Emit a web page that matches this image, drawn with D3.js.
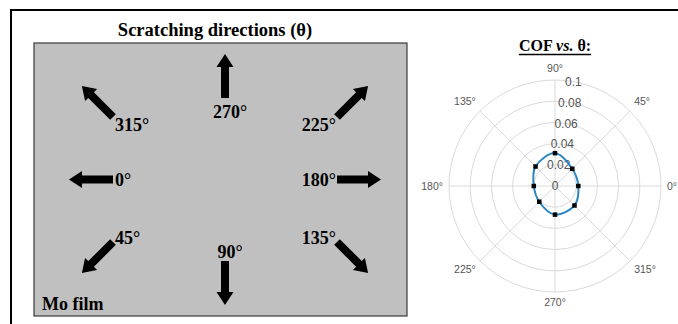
<!DOCTYPE html>
<html>
<head>
<meta charset="utf-8">
<script src="https://cdn.jsdelivr.net/npm/d3@7"></script>
<style>
  html, body { margin: 0; padding: 0; background: #fff; }
  svg { display: block; }
</style>
</head>
<body>
<svg id="fig" width="678" height="324"></svg>
<script>
// Scratching directions drawn on the film (degrees)
const scratchAngles = [315, 270, 225, 0, 180, 45, 90, 135];

// Polar plot: friction coefficient measured along each direction
const thetaDeg = [0, 45, 90, 135, 180, 225, 270, 315];
const cofValues = [0.022, 0.023, 0.031, 0.026, 0.020, 0.021, 0.027, 0.026];
const rTicks = [0, 0.02, 0.04, 0.06, 0.08, 0.1];
const thetaTicks = [0, 45, 90, 135, 180, 225, 270, 315];

const svg = d3.select("#fig");
const serif = "'Liberation Serif', 'Times New Roman', serif";
const sans = "'Liberation Sans', Arial, Helvetica, sans-serif";

// outer frame
svg.append("rect")
  .attr("x", 11).attr("y", 10).attr("width", 720).attr("height", 400)
  .attr("fill", "none").attr("stroke", "#000").attr("stroke-width", 2);

// ---------- left panel: film with scratching arrows ----------
const panel = { x: 34, y: 43, w: 373, h: 273 };

svg.append("text")
  .attr("x", 215).attr("y", 36)
  .attr("text-anchor", "middle")
  .attr("font-family", serif).attr("font-weight", "bold").attr("font-size", 18.5)
  .text("Scratching directions (\u03b8)");

svg.append("rect")
  .attr("x", panel.x).attr("y", panel.y).attr("width", panel.w).attr("height", panel.h)
  .attr("fill", "#c0c0c0").attr("stroke", "#3a3a3a").attr("stroke-width", 1.2);

// grid of arrow tails: columns / rows picked from the arrow's direction
const colScale = d3.scalePoint().domain(["L", "C", "R"]).range([113, 337]);
const rowScale = d3.scalePoint().domain(["T", "M", "B"]).range([117, 242]);

const arrowLen = 44, shaftHalf = 4, headHalf = 8.5, headLen = 13;
const arrowPath = d3.path();
arrowPath.moveTo(0, -shaftHalf);
arrowPath.lineTo(arrowLen - headLen, -shaftHalf);
arrowPath.lineTo(arrowLen - headLen, -headHalf);
arrowPath.lineTo(arrowLen, 0);
arrowPath.lineTo(arrowLen - headLen, headHalf);
arrowPath.lineTo(arrowLen - headLen, shaftHalf);
arrowPath.lineTo(0, shaftHalf);
arrowPath.closePath();

const arrows = scratchAngles.map(a => {
  const rad = a * Math.PI / 180;
  const dx = -Math.cos(rad), dy = Math.sin(rad);   // direction on the film
  const col = dx < -0.1 ? "L" : dx > 0.1 ? "R" : "C";
  const row = dy < -0.1 ? "T" : dy > 0.1 ? "B" : "M";
  const off = col === "C" ? 19 : 0;
  const tx = colScale(col) + dx * off;
  const ty = rowScale(row) + dy * off;
  return { a, dx, dy, col, row, tx, ty, rot: Math.atan2(dy, dx) * 180 / Math.PI };
});

const arrowG = svg.append("g");
arrowG.selectAll("path")
  .data(arrows)
  .join("path")
  .attr("d", arrowPath.toString())
  .attr("fill", "#000")
  .attr("transform", d => `translate(${d.tx},${d.ty}) rotate(${d.rot})`);

const baseShift = { T: 14, M: 6.5, B: 2 };
arrowG.selectAll("text")
  .data(arrows)
  .join("text")
  .attr("font-family", serif).attr("font-weight", "bold").attr("font-size", 18)
  .attr("text-anchor", d => d.col === "L" ? "start" : d.col === "R" ? "end" : "middle")
  .attr("x", d => d.col === "L" ? d.tx + 2 : d.col === "R" ? d.tx - 1 : d.tx + 5)
  .attr("y", d => d.col === "C" ? (d.row === "T" ? d.ty + 20 : d.ty - 3) : d.ty + baseShift[d.row])
  .text(d => d.a + "\u00b0");

svg.append("text")
  .attr("x", 42).attr("y", 310)
  .attr("font-family", serif).attr("font-weight", "bold").attr("font-size", 18)
  .text("Mo film");

// ---------- right panel: polar plot of COF vs. theta ----------
const cx = 555, cy = 186, R = 106;
const r = d3.scaleLinear().domain([0, 0.1]).range([0, R]);
const toRad = d => d * Math.PI / 180;

const title = svg.append("text")
  .attr("x", 555).attr("y", 51)
  .attr("text-anchor", "middle")
  .attr("font-family", serif).attr("font-weight", "bold").attr("font-size", 16);
title.append("tspan").text("COF ");
title.append("tspan").attr("font-style", "italic").text("vs.");
title.append("tspan").text(" \u03b8:");
const tb = title.node().getBBox();
svg.append("line")
  .attr("x1", tb.x).attr("x2", tb.x + tb.width)
  .attr("y1", 54.5).attr("y2", 54.5)
  .attr("stroke", "#000").attr("stroke-width", 1.3);

const polar = svg.append("g").attr("transform", `translate(${cx},${cy})`);

// rings
polar.selectAll("circle.ring")
  .data(rTicks.filter(t => t > 0))
  .join("circle")
  .attr("class", "ring")
  .attr("r", d => r(d))
  .attr("fill", "none")
  .attr("stroke", "#dadada").attr("stroke-width", 1);

// spokes
polar.selectAll("line.spoke")
  .data(thetaTicks)
  .join("line")
  .attr("class", "spoke")
  .attr("x1", 0).attr("y1", 0)
  .attr("x2", d => R * Math.cos(toRad(d)))
  .attr("y2", d => -R * Math.sin(toRad(d)))
  .attr("stroke", "#dadada").attr("stroke-width", 1);

// angle labels
const labOff = 112;
polar.selectAll("text.theta")
  .data(thetaTicks)
  .join("text")
  .attr("class", "theta")
  .attr("font-family", sans).attr("font-size", 10.5).attr("fill", "#555")
  .attr("x", d => labOff * Math.cos(toRad(d)))
  .attr("y", d => -labOff * Math.sin(toRad(d)))
  .attr("text-anchor", d => {
    const c = Math.cos(toRad(d));
    return c > 0.1 ? "start" : c < -0.1 ? "end" : "middle";
  })
  .attr("dy", d => {
    const s = Math.sin(toRad(d));
    return s > 0.1 ? "-0.15em" : s < -0.1 ? "0.75em" : "0.35em";
  })
  .text(d => d + "\u00b0");

// radial tick labels along 80 degrees
polar.selectAll("text.rtick")
  .data(rTicks)
  .join("text")
  .attr("class", "rtick")
  .attr("font-family", sans).attr("font-size", 12).attr("fill", "#555")
  .attr("text-anchor", "middle")
  .attr("x", d => r(d) * Math.cos(toRad(80)))
  .attr("y", d => -r(d) * Math.sin(toRad(80)))
  .attr("dy", "0.35em")
  .text(d => d === 0 ? "0" : d3.format("~g")(d));

// COF curve and measured points
const pts = thetaDeg.map((t, i) => ({ t, v: cofValues[i] }));
const line = d3.lineRadial()
  .angle(d => Math.PI / 2 - toRad(d.t))
  .radius(d => r(d.v))
  .curve(d3.curveCatmullRomClosed.alpha(0.5));

polar.append("path")
  .datum(pts)
  .attr("d", line)
  .attr("fill", "none")
  .attr("stroke", "#2a86c4").attr("stroke-width", 2);

polar.selectAll("rect.pt")
  .data(pts)
  .join("rect")
  .attr("class", "pt")
  .attr("width", 4.5).attr("height", 4.5)
  .attr("x", d => r(d.v) * Math.cos(toRad(d.t)) - 2.25)
  .attr("y", d => -r(d.v) * Math.sin(toRad(d.t)) - 2.25)
  .attr("fill", "#000");
</script>
</body>
</html>
